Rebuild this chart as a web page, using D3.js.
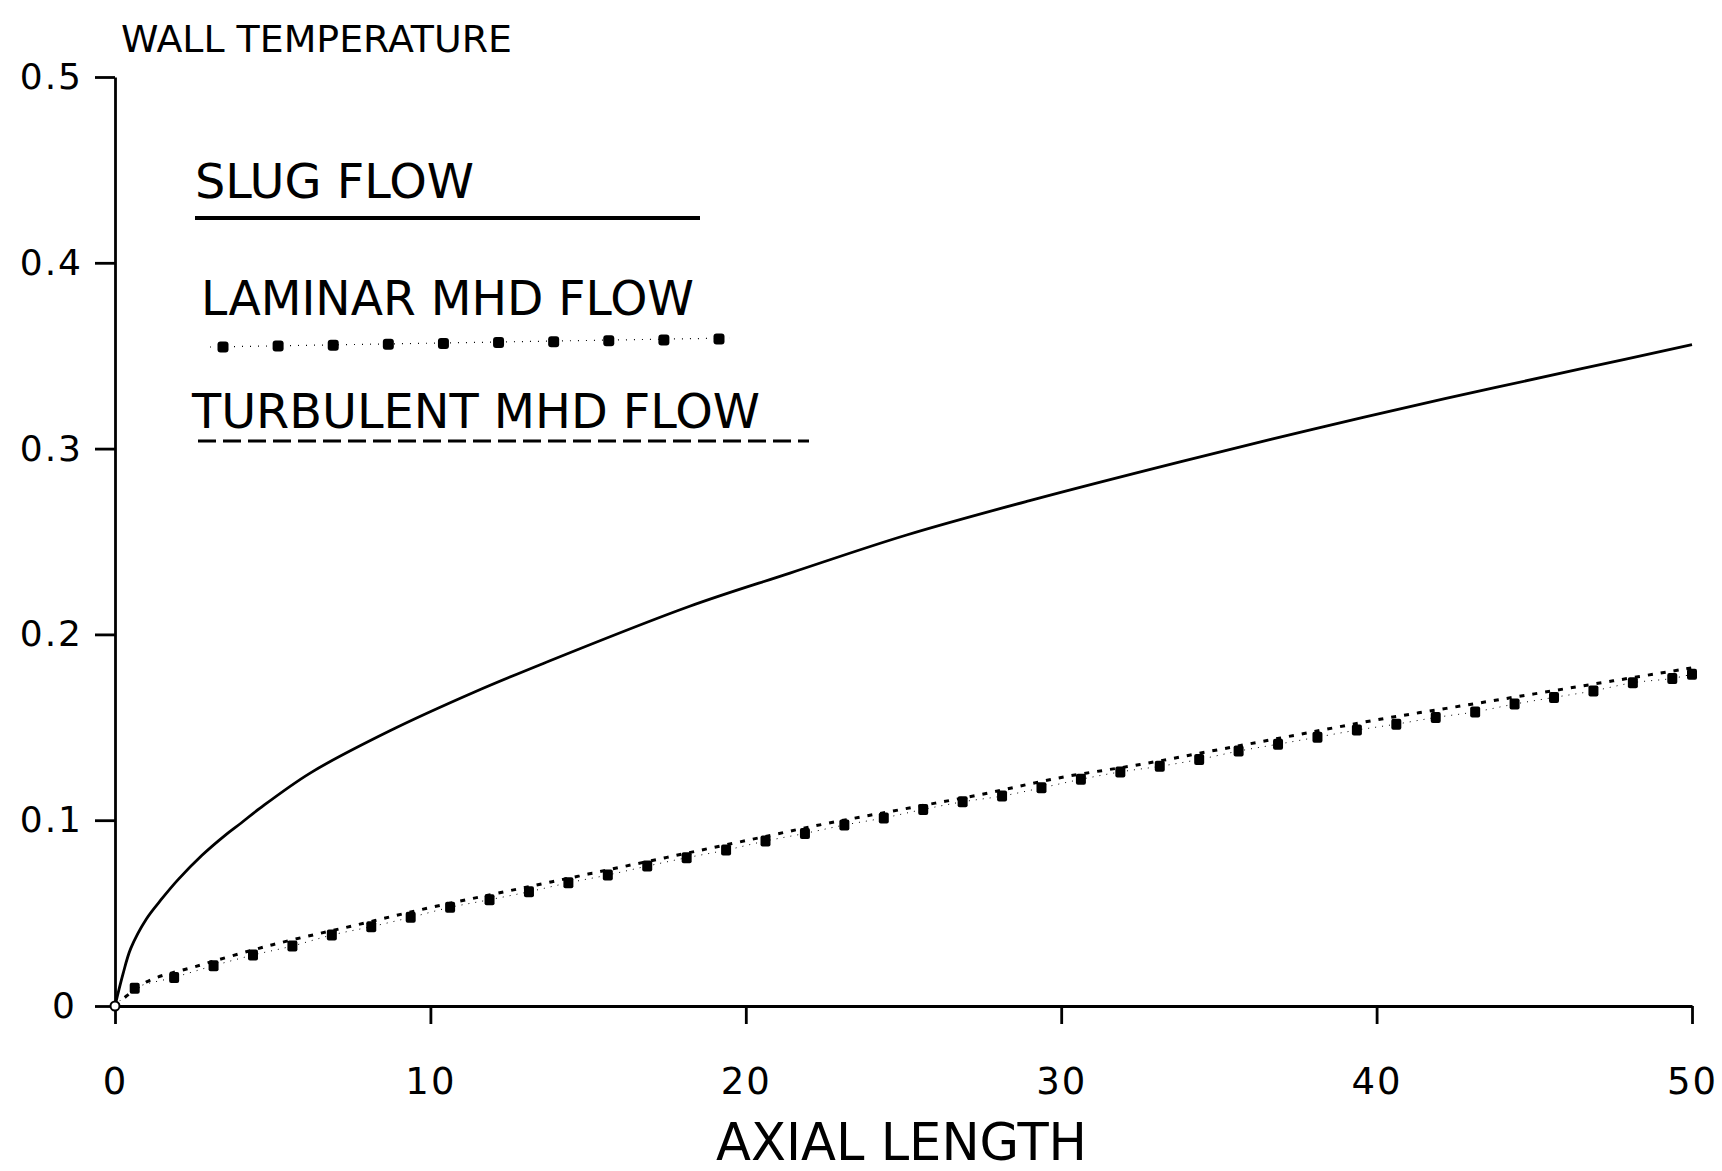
<!DOCTYPE html>
<html>
<head>
<meta charset="utf-8">
<script src="https://cdn.jsdelivr.net/npm/d3@7"></script>
<style>
  body { margin: 0; background: #fff; }
  text { font-family: "DejaVu Sans", "Liberation Sans", sans-serif; fill: #000; }
</style>
</head>
<body>
<div id="chart"></div>
<script>
// Chart data
var xTicks = [0, 10, 20, 30, 40, 50];
var yTicks = [0, 0.1, 0.2, 0.3, 0.4, 0.5];
var yTickLabels = ["0", "0.1", "0.2", "0.3", "0.4", "0.5"];

// slug flow (solid line)
var slugX = [0, 0.25, 0.5, 1, 1.5, 2, 2.75, 3.5, 4, 4.6, 6.2, 8.7, 11.4, 13.6, 18.2, 21.4, 25.1, 29.0, 33.8, 38.0, 42.2, 46.5, 50];
var slugY = [0, 0.017, 0.031, 0.047, 0.058, 0.068, 0.081, 0.092, 0.0985, 0.1065, 0.1255, 0.148, 0.169, 0.1845, 0.215, 0.233, 0.2535, 0.272, 0.293, 0.3105, 0.327, 0.343, 0.356];

// laminar MHD flow (square markers)
var laminarX = [0.625, 1.875, 3.125, 4.375, 5.625, 6.875, 8.125, 9.375, 10.625, 11.875,
  13.125, 14.375, 15.625, 16.875, 18.125, 19.375, 20.625, 21.875, 23.125, 24.375,
  25.625, 26.875, 28.125, 29.375, 30.625, 31.875, 33.125, 34.375, 35.625, 36.875,
  38.125, 39.375, 40.625, 41.875, 43.125, 44.375, 45.625, 46.875, 48.125, 49.375, 50];
var laminarY = [0.0095, 0.0154, 0.0217, 0.0274, 0.0323, 0.0382, 0.0427, 0.0477, 0.0531, 0.0572,
  0.0615, 0.0663, 0.0705, 0.0753, 0.0798, 0.0839, 0.0888, 0.0929, 0.0974, 0.1012,
  0.1058, 0.1099, 0.1130, 0.1174, 0.1220, 0.1260, 0.1290, 0.1327, 0.1372, 0.1409,
  0.1447, 0.1485, 0.1517, 0.1553, 0.1583, 0.1625, 0.1661, 0.1696, 0.1740, 0.1763, 0.1786];

// turbulent MHD flow (short dashes)
var turbX = [0, 1, 2.5, 5, 7.5, 10, 12.5, 15, 17.5, 20, 22.5, 25, 27.5, 30, 32.5, 35, 37.5, 40, 42.5, 45, 47.5, 50];
var turbY = [0, 0.013, 0.021, 0.033, 0.043, 0.053, 0.062, 0.071, 0.080, 0.089, 0.098, 0.106, 0.114, 0.123, 0.130, 0.138, 0.146, 0.154, 0.161, 0.168, 0.175, 0.182];

var legendLabels = ["SLUG FLOW", "LAMINAR MHD FLOW", "TURBULENT MHD FLOW"];

// SVG area
var svgWidth = 1722;
var svgHeight = 1171;
var margin = { top: 77, right: 30, bottom: 165, left: 115 };
var width = svgWidth - margin.left - margin.right;
var height = svgHeight - margin.top - margin.bottom;

var svg = d3.select("#chart")
  .append("svg")
  .attr("width", svgWidth)
  .attr("height", svgHeight);

var g = svg.append("g")
  .attr("transform", `translate(${margin.left}, ${margin.top})`);

var x = d3.scaleLinear().domain([0, 50]).range([0, width]);
var y = d3.scaleLinear().domain([0, 0.5]).range([height, 0]);

// axes
var leftAxis = d3.axisLeft(y)
  .tickValues(yTicks)
  .tickFormat((d, i) => yTickLabels[i])
  .tickSize(20)
  .tickSizeOuter(0)
  .tickPadding(12);

var bottomAxis = d3.axisBottom(x)
  .tickValues(xTicks)
  .tickFormat(d3.format("d"))
  .tickSize(18)
  .tickSizeOuter(0)
  .tickPadding(44);

var yAxisG = g.append("g").call(leftAxis);
var xAxisG = g.append("g")
  .attr("transform", `translate(0, ${height})`)
  .call(bottomAxis);

[yAxisG, xAxisG].forEach(function(ax) {
  ax.attr("font-family", null).attr("font-size", null);
  ax.selectAll("path, line").attr("stroke", "#000").attr("stroke-width", 2.8);
});
yAxisG.selectAll("text")
  .style("font-size", "36px")
  .style("letter-spacing", "2px")
  .attr("dx", (d, i) => i === 0 ? -6 : 0);
xAxisG.selectAll("text")
  .style("font-size", "37px")
  .style("letter-spacing", "2px");

// slug flow line
var slugData = slugX.map((d, i) => ({ x: d, y: slugY[i] }));
var lineGen = d3.line()
  .x(d => x(d.x))
  .y(d => y(d.y))
  .curve(d3.curveCatmullRom.alpha(0.5));

g.append("path")
  .datum(slugData)
  .attr("fill", "none")
  .attr("stroke", "#000")
  .attr("stroke-width", 2.8)
  .attr("d", lineGen);

// turbulent dashed line
var turbData = turbX.map((d, i) => ({ x: d, y: turbY[i] }));
g.append("path")
  .datum(turbData)
  .attr("fill", "none")
  .attr("stroke", "#000")
  .attr("stroke-width", 3)
  .attr("stroke-dasharray", "5,8")
  .attr("d", lineGen);

// laminar markers with thin dotted line
var laminarData = [{ x: 0, y: 0 }].concat(laminarX.map((d, i) => ({ x: d, y: laminarY[i] })));
g.append("path")
  .datum(laminarData)
  .attr("fill", "none")
  .attr("stroke", "#000")
  .attr("stroke-width", 1)
  .attr("stroke-dasharray", "1,6")
  .attr("d", lineGen);

g.selectAll(".lam")
  .data(laminarData.slice(1))
  .enter()
  .append("rect")
  .attr("class", "lam")
  .attr("x", d => x(d.x) - 5)
  .attr("y", d => y(d.y) - 5.5)
  .attr("width", 10)
  .attr("height", 11)
  .attr("rx", 2)
  .attr("fill", "#000");

// small open circle at origin
g.append("circle")
  .attr("cx", x(0))
  .attr("cy", y(0))
  .attr("r", 4.5)
  .attr("fill", "#fff")
  .attr("stroke", "#000")
  .attr("stroke-width", 2);

// titles
svg.append("text")
  .attr("x", 121)
  .attr("y", 52)
  .attr("textLength", 391)
  .attr("lengthAdjust", "spacingAndGlyphs")
  .style("font-size", "38px")
  .text("WALL TEMPERATURE");

svg.append("text")
  .attr("x", 716)
  .attr("y", 1160)
  .attr("textLength", 371)
  .attr("lengthAdjust", "spacingAndGlyphs")
  .style("font-size", "52px")
  .text("AXIAL LENGTH");

// legend
var legend = svg.append("g");
var legendText = [
  { x: 195, y: 198, w: 279 },
  { x: 201, y: 315, w: 493 },
  { x: 192, y: 428, w: 568 }
];
legend.selectAll("text")
  .data(legendLabels)
  .enter()
  .append("text")
  .attr("x", (d, i) => legendText[i].x)
  .attr("y", (d, i) => legendText[i].y)
  .attr("textLength", (d, i) => legendText[i].w)
  .attr("lengthAdjust", "spacingAndGlyphs")
  .style("font-size", "48px")
  .text(d => d);

legend.append("line")
  .attr("x1", 195).attr("x2", 700)
  .attr("y1", 218).attr("y2", 218)
  .attr("stroke", "#000").attr("stroke-width", 4);

legend.append("line")
  .attr("x1", 210).attr("x2", 730)
  .attr("y1", 347).attr("y2", 338)
  .attr("stroke", "#000").attr("stroke-width", 1.2)
  .attr("stroke-dasharray", "1,7");

var dotX = d3.scaleLinear().domain([0, 9]).range([223, 719]);
var dotY = d3.scaleLinear().domain([0, 9]).range([347, 339]);
legend.selectAll(".ldot")
  .data(d3.range(10))
  .enter()
  .append("rect")
  .attr("class", "ldot")
  .attr("x", d => dotX(d) - 5.5)
  .attr("y", d => dotY(d) - 5.5)
  .attr("width", 11)
  .attr("height", 11)
  .attr("rx", 3)
  .attr("fill", "#000");

legend.append("line")
  .attr("x1", 198).attr("x2", 809)
  .attr("y1", 441).attr("y2", 441)
  .attr("stroke", "#000").attr("stroke-width", 3)
  .attr("stroke-dasharray", "18,7");
</script>
</body>
</html>
